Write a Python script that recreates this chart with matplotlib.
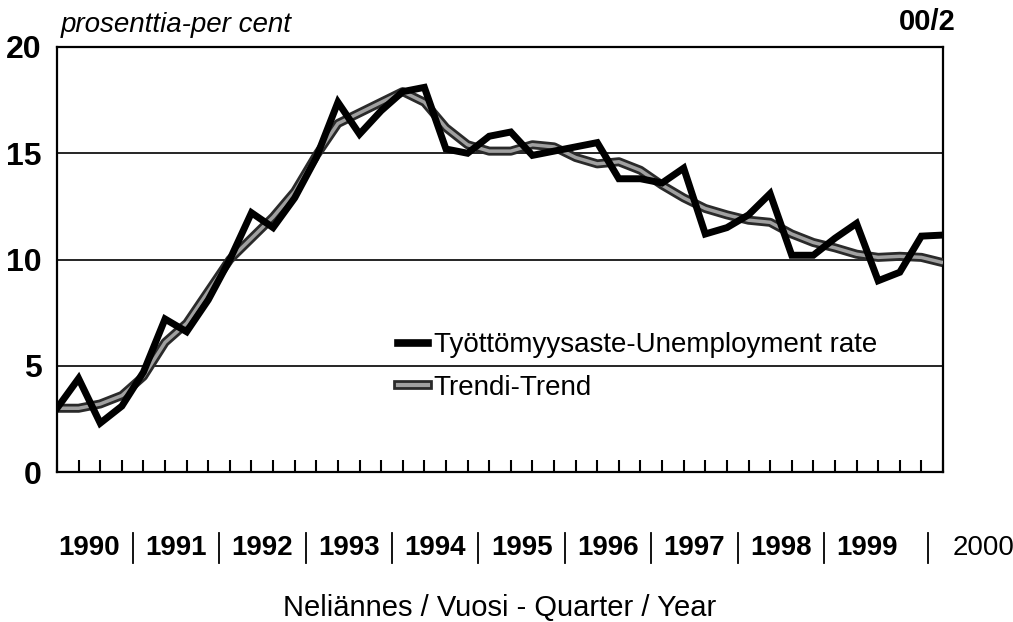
import matplotlib
matplotlib.use('Agg')
import matplotlib.pyplot as plt
import matplotlib.patheffects as pe
from matplotlib.lines import Line2D

plt.rcParams['font.family'] = ['Liberation Sans', 'DejaVu Sans']

# Neljännesvuosittainen data 1990Q1 - 2000Q2
actual = [3.0, 4.4, 2.3, 3.1, 4.7, 7.2, 6.6, 8.1, 10.0, 12.2, 11.5, 12.9,
          14.8, 17.4, 15.9, 17.0, 17.9, 18.1, 15.2, 15.0, 15.8, 16.0, 14.9, 15.1,
          15.3, 15.5, 13.8, 13.8, 13.6, 14.3, 11.2, 11.5, 12.1, 13.1, 10.2, 10.2,
          11.0, 11.7, 9.0, 9.4, 11.1, 11.15]
trend = [3.0, 3.0, 3.2, 3.6, 4.5, 6.1, 7.0, 8.5, 10.0, 11.0, 12.0, 13.2,
         14.9, 16.4, 16.9, 17.4, 17.9, 17.4, 16.2, 15.4, 15.1, 15.1, 15.4, 15.3,
         14.8, 14.5, 14.6, 14.2, 13.5, 12.9, 12.4, 12.1, 11.85, 11.75, 11.2, 10.8,
         10.55, 10.25, 10.1, 10.15, 10.1, 9.85]
years = ['1990', '1991', '1992', '1993', '1994', '1995', '1996', '1997', '1998', '1999', '2000']
x = list(range(len(actual)))

fig = plt.figure(figsize=(10.13, 6.22), dpi=100)
ax = fig.add_axes([57 / 1013, 1 - 472 / 622, 886 / 1013, 425 / 622])

# trendi: tumma reuna ja harmaa keskus
ax.plot(x, trend, color='#a0a0a0', lw=2.5, zorder=3, solid_capstyle='butt',
        path_effects=[pe.Stroke(linewidth=6.5, foreground='#2a2a2a'), pe.Normal()])
ax.plot(x, actual, color='black', lw=5, zorder=4, solid_joinstyle='miter')

ax.set_xlim(0, len(actual) - 1)
ax.set_ylim(0, 20)
ax.set_yticks([0, 5, 10, 15, 20])
ax.set_yticklabels(['0', '5', '10', '15', '20'], fontsize=23, fontweight='bold')
ax.tick_params(axis='y', length=0, pad=11)
ax.set_xticks(x)
ax.set_xticklabels([])
ax.tick_params(axis='x', direction='in', length=9, width=1.5, color='black')
for s in ax.spines.values():
    s.set_linewidth(1.6)
for yv in [5, 10, 15]:
    ax.axhline(yv, color='black', lw=1.2, zorder=1)

# vuosimerkinnät akselin alle
trans = ax.get_xaxis_transform()
for k, yr in enumerate(years):
    xpos = k * 4 + 1.5 if yr != '2000' else 42.9
    ax.text(xpos, -0.179, yr, transform=trans, ha='center', va='center',
            fontsize=20, fontweight='bold' if yr != '2000' else 'normal', clip_on=False)
    if k > 0:
        sep = k * 4 - 0.5 if yr != '2000' else 40.3
        ax.add_line(Line2D([sep, sep], [-0.144, -0.214], transform=trans,
                           color='black', lw=1.3, clip_on=False))

ax.text(0.5, -0.32, 'Neliännes / Vuosi - Quarter / Year', transform=ax.transAxes,
        ha='center', va='center', fontsize=21)
ax.text(0.004, 1.052, 'prosenttia-per cent', transform=ax.transAxes,
        ha='left', va='center', fontsize=20, style='italic')
ax.text(1.014, 1.06, '00/2', transform=ax.transAxes,
        ha='right', va='center', fontsize=21, fontweight='bold')

h1 = Line2D([], [], color='black', lw=5.5)
h2 = Line2D([], [], color='#a0a0a0', lw=3,
            path_effects=[pe.Stroke(linewidth=7, foreground='#2a2a2a'), pe.Normal()])
ax.legend([h1, h2], ['Työttömyysaste-Unemployment rate', 'Trendi-Trend'],
          loc='center left', bbox_to_anchor=(0.372, 0.248), frameon=False,
          fontsize=20, handlelength=1.1, handletextpad=0.2, labelspacing=0.6,
          borderaxespad=0)

fig.savefig('out.png', dpi=100)
